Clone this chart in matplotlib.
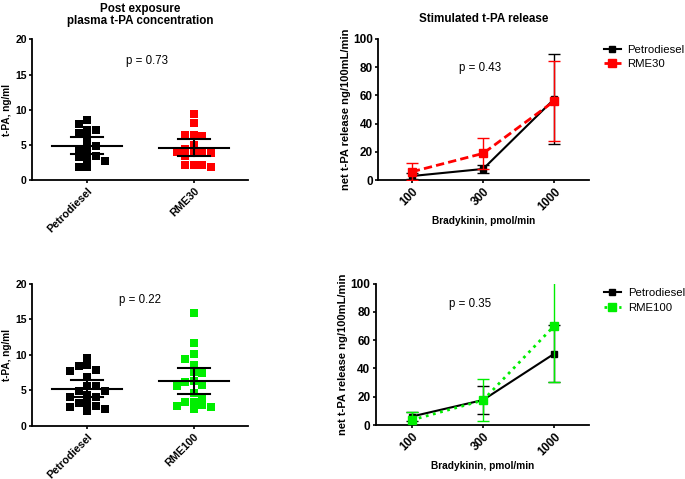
import numpy as np
import matplotlib
matplotlib.use("Agg")
from matplotlib import pyplot as plt

plt.rcParams['font.family'] = ['Liberation Sans', 'DejaVu Sans']
plt.rcParams['font.size'] = 8

# plasma t-PA, ng/ml (individual subjects)
petro_a = [8.5, 8.0, 7.2, 7.1, 6.7, 6.2, 5.0, 4.9, 4.3, 4.1, 3.5, 3.3, 2.7, 3.0, 1.9, 1.9]
rme30 = [9.4, 8.1, 6.4, 6.3, 6.4, 5.0, 4.5, 4.2, 4.0, 3.9, 4.0, 3.4, 2.1, 1.9, 2.1, 2.1]
petro_b = [9.6, 8.4, 8.5, 7.7, 7.8, 6.8, 5.6, 5.6, 4.9, 4.9, 4.3, 4.1, 4.1,
           3.2, 2.7, 3.2, 2.8, 2.4, 2.0]
rme100 = [15.9, 11.6, 10.1, 9.4, 8.6, 7.5, 7.4, 6.2, 5.6, 5.8, 6.3, 4.6, 3.9,
          3.3, 3.4, 2.8, 2.9, 2.3, 2.6]

# mean and 95% CI as drawn
top_groups = ['Petrodiesel', 'RME30']
top_mean = [4.9, 4.65]
top_ci = [1.2, 1.25]
bot_groups = ['Petrodiesel', 'RME100']
bot_mean = [5.2, 6.3]
bot_ci = [1.2, 1.8]

# stimulated release
doses = ['100', '300', '1000']
petro_rel_a = [3.0, 8.0, 57.5]
petro_err_a = [2.0, 3.0, 32.0]
rme30_rel = [6.0, 19.0, 56.0]
rme30_err = [6.0, 11.0, 28.0]
petro_rel_b = [6.0, 17.7, 50.5]
petro_err_b = [3.0, 10.0, 20.0]
rme100_rel = [3.5, 17.5, 70.3]
rme100_err = [6.0, 15.0, 40.0]

GREEN = '#00ee00'
RED = '#ff0000'

fig = plt.figure(figsize=(6.85, 4.79), dpi=100)


def style(ax, size):
    for s in ['top', 'right']:
        ax.spines[s].set_visible(False)
    for s in ['left', 'bottom']:
        ax.spines[s].set_linewidth(1.3)
    ax.tick_params(width=1.2, length=2.5, pad=1.5, labelsize=size)
    for lab in ax.get_xticklabels() + ax.get_yticklabels():
        lab.set_fontweight('bold')


def swarm(ax, center, vals, color, w=8.6):
    # beeswarm layout on a half-marker grid, in pixel space
    p0 = ax.transData.transform((0, 0))
    p1 = ax.transData.transform((1, 1))
    sx, sy = p1[0] - p0[0], p1[1] - p0[1]
    placed = []
    xs = np.zeros(len(vals))
    for i in np.argsort(vals)[::-1]:
        yp = vals[i] * sy
        k = 0
        found = None
        while found is None:
            left = sum(1 for px, _ in placed if px < 0)
            right = sum(1 for px, _ in placed if px > 0)
            cands = [0.0] if k == 0 else ([k * w / 2, -k * w / 2] if left > right else [-k * w / 2, k * w / 2])
            for off in cands:
                if all(abs(off - px) >= 0.95 * w or abs(yp - py) >= 0.7 * w for px, py in placed):
                    found = off
                    break
            k += 1
        placed.append((found, yp))
        xs[i] = center + found / sx
    ax.scatter(xs, vals, marker='s', s=36, color=color, linewidths=0, zorder=2, clip_on=False)


def dot_panel(rect, groups, series, colors, means, cis, ptext, ppos, title=None):
    ax = fig.add_axes(rect)
    ax.set_xlim(-0.517, 1.507)
    ax.set_ylim(0, 20)
    ax.set_yticks([0, 5, 10, 15, 20])
    ax.set_xticks([0, 1])
    ax.set_xticklabels(groups, rotation=45, ha='right', rotation_mode='anchor')
    for i, (vals, c) in enumerate(zip(series, colors)):
        swarm(ax, i, vals, c)
        m, e = means[i], cis[i]
        ax.plot([i - 0.33, i + 0.33], [m, m], color='black', lw=1.5, zorder=3)
        ax.plot([i - 0.15, i + 0.15], [m + e, m + e], color='black', lw=1.5, zorder=3)
        ax.plot([i - 0.15, i + 0.15], [m - e, m - e], color='black', lw=1.5, zorder=3)
        ax.plot([i, i], [m - e, m + e], color='black', lw=1.5, zorder=3)
    ax.set_ylabel('t-PA, ng/ml', fontweight='bold', fontsize=7.2, labelpad=2.5)
    ax.text(ppos[0], ppos[1], ptext, transform=ax.transAxes, ha='center', va='center', fontsize=8.3)
    if title:
        ax.set_title(title, fontweight='bold', fontsize=8.4, pad=11, linespacing=1.05)
    style(ax, 7.5)
    for lab in ax.get_xticklabels():
        lab.set_fontsize(7.8)
    return ax


def line_panel(rect, xlim, lab2, y1, e1, y2, e2, c2, ls2, ptext, ppos, leg_y, leg_sp, title=None):
    ax = fig.add_axes(rect)
    x = np.arange(len(doses))
    eb1 = ax.errorbar(x, y1, yerr=e1, color='black', lw=1.5, elinewidth=1, capsize=4,
                      marker='s', ms=5, label='Petrodiesel', zorder=2)
    eb2 = ax.errorbar(x, y2, yerr=e2, color=c2, lw=2, ls=ls2, elinewidth=1, capsize=4,
                      marker='s', ms=6, label=lab2, zorder=3)
    ax.set_xlim(*xlim)
    ax.set_ylim(0, 100)
    ax.set_yticks([0, 20, 40, 60, 80, 100])
    ax.set_xticks(x)
    ax.set_xticklabels(doses, rotation=45, ha='right', rotation_mode='anchor')
    ax.set_xlabel('Bradykinin, pmol/min', fontweight='bold', fontsize=7.3, labelpad=2)
    ax.set_ylabel('net t-PA release ng/100mL/min', fontweight='bold', fontsize=8, labelpad=1.5)
    ax.text(ppos[0], ppos[1], ptext, transform=ax.transAxes, ha='center', va='center', fontsize=8.3)
    if title:
        ax.set_title(title, fontweight='bold', fontsize=8.4, pad=12)
    ax.legend(handles=[eb1.lines[0], eb2.lines[0]], labels=['Petrodiesel', lab2],
              loc='upper left', bbox_to_anchor=(1.068, leg_y), frameon=False,
              handlelength=1.5, handletextpad=0.6, fontsize=8.2, borderaxespad=0,
              borderpad=0, labelspacing=leg_sp, markerscale=0.9)
    style(ax, 8.5)
    return ax


dot_panel([0.0472, 0.6236, 0.3145, 0.2944], top_groups, [petro_a, rme30], ['black', RED],
          top_mean, top_ci, 'p = 0.73', (0.53, 0.845),
          title='Post exposure\nplasma t-PA concentration')
dot_panel([0.0472, 0.1113, 0.3145, 0.2965], bot_groups, [petro_b, rme100], ['black', GREEN],
          bot_mean, bot_ci, 'p = 0.22', (0.50, 0.885))
line_panel([0.5523, 0.6236, 0.308, 0.2956], (-0.47, 2.49), 'RME30', petro_rel_a, petro_err_a,
           rme30_rel, rme30_err, RED, (0, (3, 1.5)), 'p = 0.43', (0.48, 0.79), 0.955, 0.35,
           title='Stimulated t-PA release')
line_panel([0.5489, 0.1127, 0.3114, 0.295], (-0.5, 2.49), 'RME100', petro_rel_b,
           petro_err_b, rme100_rel, rme100_err, GREEN, ':', 'p = 0.35',
           (0.44, 0.856), 0.97, 0.45)

fig.savefig('out.png', dpi=100)
